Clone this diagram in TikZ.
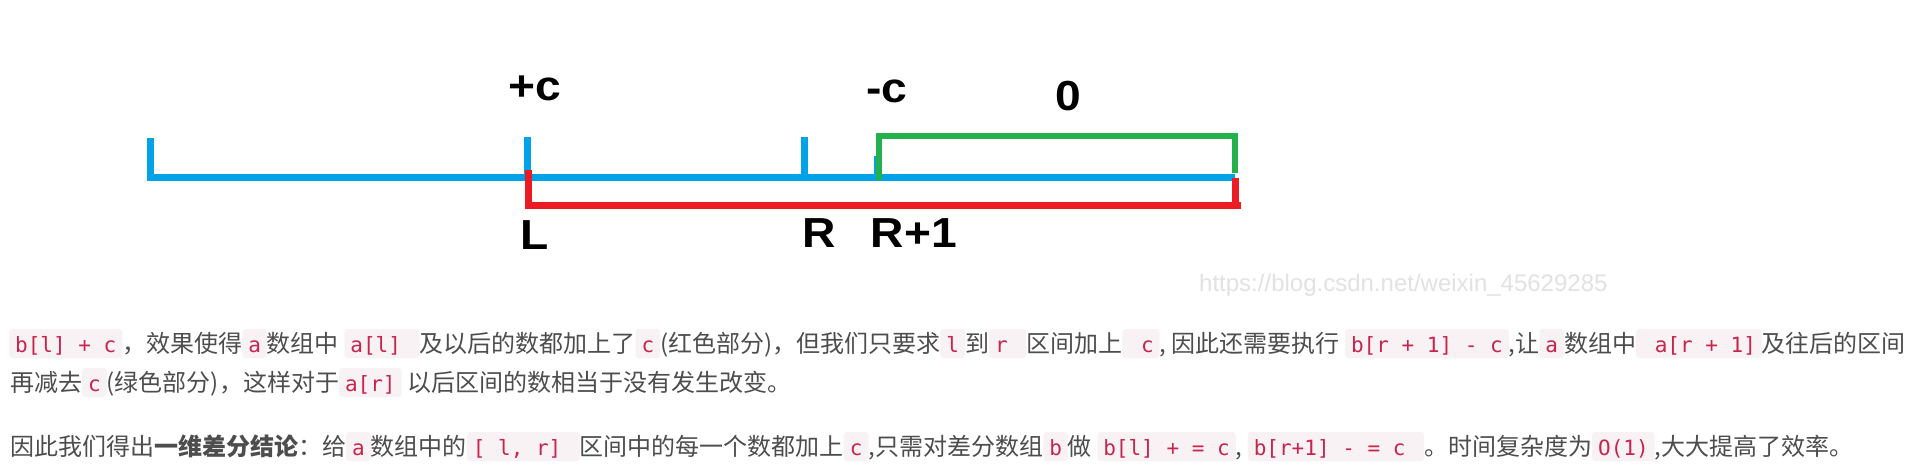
\documentclass[tikz,border=0pt]{standalone}
\usepackage{fontspec}
\usepackage{graphicx}
\setmainfont{Liberation Sans}
\newfontfamily\cjkfont{Noto Sans CJK SC}
\newfontfamily\codefont{DejaVu Sans Mono}
\definecolor{pblue}{RGB}{0,162,232}
\definecolor{pred}{RGB}{237,28,36}
\definecolor{pgreen}{RGB}{34,177,76}
\definecolor{bodytxt}{RGB}{77,77,77}
\definecolor{codetxt}{RGB}{199,37,78}
\definecolor{codebg}{RGB}{249,242,244}
\definecolor{wmark}{RGB}{226,226,226}
\tikzset{
  codebox/.style={fill=codebg, draw=none, rounded corners=3pt, inner xsep=6pt, inner ysep=0pt,
    text height=23pt, text depth=6pt, anchor=base, text=codetxt,
    font=\codefont\fontsize{21}{21}\selectfont},
  bodyline/.style={anchor=base west, inner sep=0pt, text=bodytxt,
    font=\cjkfont\fontsize{24}{28}\selectfont},
  lbl/.style={anchor=base, inner sep=0pt, text=black, font=\bfseries\fontsize{42}{42}\selectfont},
  seg/.style={line width=7pt},
}
\newcommand{\cd}[1]{\tikz[baseline=(cdn.base)]\node[codebox](cdn){\mbox{#1}};}
\newcommand{\wl}[1]{\scalebox{1.1}[1]{#1}}
\begin{document}
\begin{tikzpicture}[x=1pt,y=-1pt]
\fill[white] (0,0) rectangle (1916,467);
\useasboundingbox (0,0) rectangle (1916,467);
% coordinates
\coordinate (b0) at (150,138);
\coordinate (b1) at (150,177);
\coordinate (bend) at (1235,177);
\coordinate (tL) at (527,137);
\coordinate (tLb) at (527,177);
\coordinate (tR) at (804,137);
\coordinate (tRb) at (804,177);
\coordinate (tS) at (876,156);
\coordinate (tSb) at (876,177);
\coordinate (g0) at (879,180);
\coordinate (g1) at (879,136);
\coordinate (g2) at (1235,136);
\coordinate (g3) at (1235,173);
\coordinate (r0) at (528,170);
\coordinate (r1) at (528,205);
\coordinate (r2) at (1241,205);
\coordinate (r3) at (1235,178);
\coordinate (r4) at (1235,209);
% blue
\draw[seg, pblue] (b0) -- (b1) -- (bend);
\draw[seg, pblue] (tL) -- (tLb);
\draw[seg, pblue] (tR) -- (tRb);
\draw[seg, pblue, line width=5pt] (tS) -- (tSb);
% green
\draw[seg, pgreen, line width=6pt] (g0) -- (g1) -- (g2) -- (g3);
% red
\draw[seg, pred] (r0) -- (r1) -- (r2);
\draw[seg, pred] (r3) -- (r4);
% labels
\node[lbl] (pc) at (535,100) {\wl{+c}};
\node[lbl] (mc) at (887,102) {\wl{-c}};
\node[lbl] (zero) at (1068,110) {\wl{0}};
\node[lbl] (lL) at (535,249) {\wl{L}};
\node[lbl] (lR) at (819,247) {\wl{R}};
\node[lbl] (lR1) at (914,247) {\wl{R+1}};
% watermark
\node[anchor=base west, inner sep=0pt, text=wmark, font=\fontsize{24}{24}\selectfont] (wm) at (1199,291) {https://blog.csdn.net/weixin\_45629285};
% text lines
\node[bodyline] (line1) at (9,352) {\cd{b[l]~+~c}，效果使得\cd{a}数组中 \cd{a[l]~}及以后的数都加上了\cd{c}(红色部分)，但我们只要求\cd{l}到\cd{r~}区间加上\cd{~c}, 因此还需要执行 \cd{b[r~+~1]~-~c},让\cd{a}数组中\cd{~a[r~+~1]}及往后的区间};
\node[bodyline] (line2) at (10,391) {再减去\cd{c}(绿色部分)，这样对于\cd{a[r]} 以后区间的数相当于没有发生改变。};
\node[bodyline] (line3) at (10,455) {因此我们得出{\bfseries 一维差分结论}：给\cd{a}数组中的\cd{[~l,~r]~}区间中的每一个数都加上\cd{c},只需对差分数组\cd{b}做 \cd{b[l]~+~=~c}, \cd{b[r+1]~-~=~c~}。时间复杂度为\cd{O(1)},大大提高了效率。};
\end{tikzpicture}
\end{document}
